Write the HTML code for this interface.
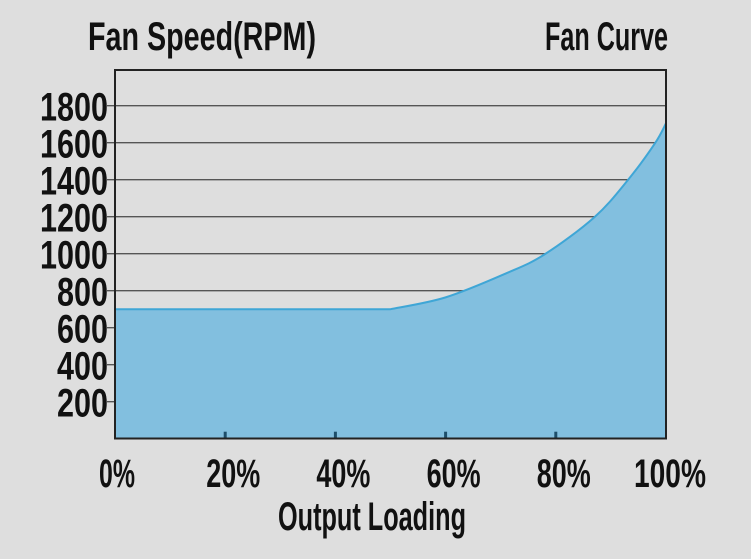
<!DOCTYPE html>
<html><head><meta charset="utf-8"><style>
html,body{margin:0;padding:0;background:#dedede;}
svg{display:block;font-family:"Liberation Sans",sans-serif;}
text{fill:#111;font-weight:bold;}
</style></head><body>
<svg id="chart" width="751" height="559">
<rect x="0" y="0" width="751" height="559" fill="#dedede"/>
<g id="grid"></g>
<path id="area" fill="#82bfdf"/>
<path id="line" fill="none" stroke="#3fa6d6" stroke-width="2"/>
<g id="ticks"></g>
<rect x="115" y="70" width="551" height="368.5" fill="none" stroke="#222" stroke-width="2"/>
<g id="ylabels"></g>
<g id="xlabels"></g>
<text x="88" y="50" font-size="40" textLength="228" lengthAdjust="spacingAndGlyphs">Fan Speed(RPM)</text>
<text x="545" y="50" font-size="40" textLength="123" lengthAdjust="spacingAndGlyphs">Fan Curve</text>
<text x="278" y="530" font-size="40" textLength="188" lengthAdjust="spacingAndGlyphs">Output Loading</text>
</svg>
<script>
const loadPct = [0, 50, 60, 71, 78, 87, 93, 98, 100];
const rpm = [700, 700, 764, 894, 997, 1197, 1395, 1597, 1705];
const yTicks = [200, 400, 600, 800, 1000, 1200, 1400, 1600, 1800];
const xTicks = [0, 20, 40, 60, 80, 100];
const xTickLabels = ["0%", "20%", "40%", "60%", "80%", "100%"];
const NS = "http://www.w3.org/2000/svg";
const X0 = 115, X1 = 666, Y0 = 438.7;
const sx = v => X0 + (X1 - X0) * v / 100;
const sy = v => Y0 - v * 37 / 200;
const grid = document.getElementById('grid'), ticks = document.getElementById('ticks');
const yl = document.getElementById('ylabels'), xl = document.getElementById('xlabels');
yTicks.forEach(t => {
  const l = document.createElementNS(NS, 'line');
  l.setAttribute('x1', X0 - 8); l.setAttribute('x2', X1);
  l.setAttribute('y1', sy(t)); l.setAttribute('y2', sy(t));
  l.setAttribute('stroke', '#555'); l.setAttribute('stroke-width', '1.3');
  
  
  grid.appendChild(l);
  const s = String(t);
  const tx = document.createElementNS(NS, 'text');
  tx.setAttribute('x', 108); tx.setAttribute('y', sy(t) + 15);
  tx.setAttribute('text-anchor', 'end'); tx.setAttribute('font-size', '40');
  tx.setAttribute('textLength', s.length * 17); tx.setAttribute('lengthAdjust', 'spacingAndGlyphs');
  tx.textContent = s;
  
  
  yl.appendChild(tx);
});
xTicks.forEach((t, i) => {
  if (t > 0 && t < 100) {
    const m = document.createElementNS(NS, 'line');
    m.setAttribute('x1', sx(t)); m.setAttribute('x2', sx(t));
    m.setAttribute('y1', Y0 - 7); m.setAttribute('y2', Y0);
    m.setAttribute('stroke', '#1d4e6a'); m.setAttribute('stroke-width', '3');
    
    
    ticks.appendChild(m);
  }
  const s = xTickLabels[i];
  const tx = document.createElementNS(NS, 'text');
  let cx = sx(t) + 8 + (t === 0 ? -6 : 0);
  if (t === 100) cx = 670;
  tx.setAttribute('x', cx); tx.setAttribute('y', 487);
  tx.setAttribute('text-anchor', 'middle'); tx.setAttribute('font-size', '40');
  tx.setAttribute('textLength', s.length * 18); tx.setAttribute('lengthAdjust', 'spacingAndGlyphs');
  tx.textContent = s;
  
  
  xl.appendChild(tx);
});
// flat segment then Catmull-Rom smoothing through the rising points
const P = loadPct.map((p, i) => [sx(p), sy(rpm[i])]);
let d = 'M' + P[0][0] + ',' + P[0][1] + ' L' + P[1][0] + ',' + P[1][1];
for (let i = 1; i < P.length - 1; i++) {
  const p0 = P[i - 1 < 1 ? 1 : i - 1], p1 = P[i], p2 = P[i + 1], p3 = P[i + 2] || P[i + 1];
  const c1 = [p1[0] + (p2[0] - p0[0]) / 6, p1[1] + (p2[1] - p0[1]) / 6];
  const c2 = [p2[0] - (p3[0] - p1[0]) / 6, p2[1] - (p3[1] - p1[1]) / 6];
  d += ' C' + c1[0] + ',' + c1[1] + ' ' + c2[0] + ',' + c2[1] + ' ' + p2[0] + ',' + p2[1];
}
document.getElementById('line').setAttribute('d', d);
document.getElementById('area').setAttribute('d', d + ' L' + sx(100) + ',' + Y0 + ' L' + sx(0) + ',' + Y0 + ' Z');
</script>
</body></html>
